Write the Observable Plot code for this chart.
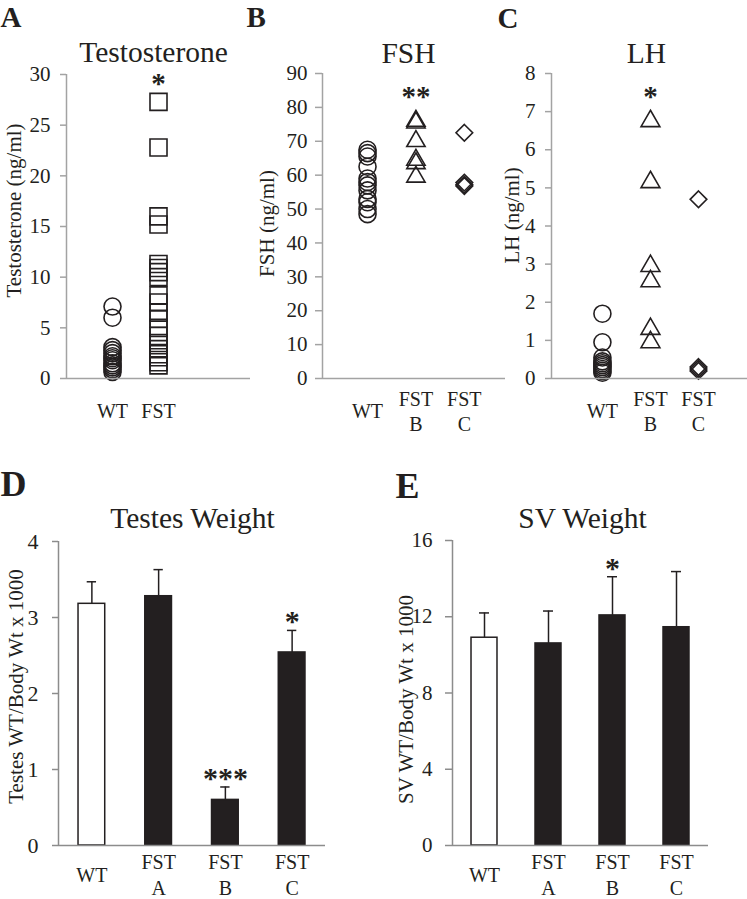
<!DOCTYPE html>
<html>
<head>
<meta charset="utf-8">
<script src="https://cdn.jsdelivr.net/npm/d3@7"></script>
<script src="https://cdn.jsdelivr.net/npm/@observablehq/plot@0.6"></script>
<style>
html, body { margin: 0; padding: 0; background: #fff; }
#fig { position: relative; width: 747px; height: 899px; overflow: hidden; background: #fff; }
#fig > div { position: absolute; }
</style>
</head>
<body>
<div id="fig"></div>
<script>
// ---------- data ----------
const testoGroups = ["WT", "FST"];
const testoWT = [7.1, 6.0, 3.1, 2.8, 2.5, 2.2, 2.0, 1.8, 1.5, 1.3, 1.1, 0.9, 0.65];
const testoFST = [27.3, 22.8, 16.0, 15.2, 11.3, 10.9, 10.5, 10.0, 8.2, 7.5, 6.5, 5.9, 5.0, 4.2, 3.5, 2.9, 2.4, 2.1, 1.6, 1.3];
const testoStars = ["", "*"];
const testoTicks = [0, 5, 10, 15, 20, 25, 30];

const hormoneGroups = ["WT", "FST\nB", "FST\nC"];
const fshWT = [67.5, 66.5, 65.5, 62.5, 59, 58, 57, 55.5, 53, 52, 50, 48.5];
const fshFSTB = [76, 75.5, 70, 64.5, 63.5, 59.5];
const fshFSTC = [72.5, 57.8, 57.2, 56.8];
const fshStars = ["", "**", ""];
const fshTicks = [0, 10, 20, 30, 40, 50, 60, 70, 80, 90];

const lhWT = [1.7, 0.95, 0.55, 0.45, 0.4, 0.35, 0.3, 0.25, 0.2, 0.15];
const lhFSTB = [6.75, 5.15, 2.95, 2.55, 1.3, 0.95];
const lhFSTC = [4.7, 0.3, 0.25, 0.2];
const lhStars = ["", "*", ""];
const lhTicks = [0, 1, 2, 3, 4, 5, 6, 7, 8];

const weightGroups = ["WT", "FST\nA", "FST\nB", "FST\nC"];
const testesMean = [3.18, 3.28, 0.60, 2.54];
const testesErr = [0.29, 0.35, 0.17, 0.29];
const testesStars = ["", "", "***", "*"];
const testesTicks = [0, 1, 2, 3, 4];

const svMean = [10.9, 10.6, 12.07, 11.45];
const svErr = [1.3, 1.7, 2.03, 2.92];
const svStars = ["", "", "*", ""];
const svTicks = [0, 4, 8, 12, 16];

// ---------- styling ----------
const FONT = '"Liberation Serif", "Times New Roman", serif';
const INK = "#231f20";

function note(p, text, xAbs, yAbs, opts) {
  return Plot.text([text], {
    frameAnchor: "top-left",
    text: d => d,
    dx: xAbs - (p.left + p.mLeft),
    dy: yAbs - (p.top + p.mTop),
    fill: INK,
    fontFamily: FONT,
    ...opts
  });
}

function panel(p, dataMarks) {
  const svg = Plot.plot({
    width: p.width,
    height: p.height,
    marginLeft: p.mLeft,
    marginRight: 0,
    marginTop: p.mTop,
    marginBottom: p.mBottom,
    x: {type: "linear", domain: p.xDomain, axis: null},
    y: {type: "linear", domain: p.yDomain, axis: null},
    style: {fontFamily: FONT, fontSize: "20px", color: INK, background: "transparent", overflow: "visible", maxWidth: "none"},
    marks: [
      ...dataMarks,
      Plot.ruleY([p.yDomain[0]], {stroke: p.axisColor, strokeWidth: 1.5}),
      Plot.ruleX([p.xDomain[0]], {stroke: p.axisColor, strokeWidth: 1.5}),
      Plot.axisY(p.yTicks, {
        tickSize: p.tickSize, tickPadding: p.tickPadding,
        stroke: p.axisColor, strokeWidth: 1.5, fill: INK,
        fontSize: p.tickFont, fontFamily: FONT, label: null,
        tickFormat: d => String(d)
      }),
      Plot.text(p.groups, {
        x: (d, i) => i + 1, text: d => d,
        frameAnchor: "bottom", lineAnchor: "middle", lineHeight: p.lineHeight,
        dy: p.xLabelDy, fontSize: 20, fill: INK, fontFamily: FONT
      }),
      note(p, p.title, p.titleX, p.titleY, {fontSize: 29.5, textAnchor: "middle", lineAnchor: "bottom"}),
      note(p, p.letter, p.letterX, p.letterY, {fontSize: p.letterSize, fontWeight: "bold", textAnchor: "start", lineAnchor: "bottom"}),
      note(p, p.ylabel, p.ylabelX, p.ylabelY, {fontSize: p.ylabelSize, rotate: -90, textAnchor: "middle", lineAnchor: "middle"})
    ]
  });
  const div = document.createElement("div");
  div.style.left = p.left + "px";
  div.style.top = p.top + "px";
  div.style.width = p.width + "px";
  div.style.height = p.height + "px";
  div.appendChild(svg);
  document.getElementById("fig").appendChild(div);
}

function scatterMarks(groups, series, symbols, radii, stars, starDy) {
  const rows = groups.flatMap((g, gi) => series[gi].map(v => ({gi, value: v})));
  const starRows = groups.map((g, gi) => ({gi, label: stars[gi], top: d3.max(series[gi])})).filter(d => d.label);
  return [
    ...groups.map((g, gi) => Plot.dot(rows.filter(d => d.gi === gi), {
      x: d => d.gi + 1, y: "value", symbol: symbols[gi], r: radii[gi],
      fill: "none", stroke: INK, strokeWidth: 1.6
    })),
    Plot.text(starRows, {x: d => d.gi + 1, y: "top", text: "label", dy: starDy, lineAnchor: "bottom", fontSize: 29, fontWeight: "bold", fill: INK, fontFamily: FONT})
  ];
}

function barMarks(groups, mean, err, stars, halfWidth, capHalf) {
  const rows = groups.map((g, i) => ({i: i + 1, mean: mean[i], top: mean[i] + err[i], star: stars[i], wt: i === 0}));
  return [
    Plot.ruleX(rows, {x: "i", y1: "mean", y2: "top", stroke: INK, strokeWidth: 1.5}),
    Plot.ruleY(rows, {y: "top", x1: d => d.i - capHalf, x2: d => d.i + capHalf, stroke: INK, strokeWidth: 1.5}),
    Plot.rect(rows, {x1: d => d.i - halfWidth, x2: d => d.i + halfWidth, y1: 0, y2: "mean",
      fill: d => d.wt ? "#ffffff" : INK, stroke: INK, strokeWidth: 1.5}),
    Plot.text(rows.filter(d => d.star), {x: "i", y: "top", text: "star", dy: 1, lineAnchor: "bottom", fontSize: 30, fontWeight: "bold", fill: INK, fontFamily: FONT})
  ];
}

// ---------- panel A ----------
const pA = {left: 0, top: 0, width: 250, height: 440, mLeft: 66, mTop: 74, mBottom: 62,
  xDomain: [0, 4], yDomain: [0, 30], yTicks: testoTicks, tickSize: 6, tickPadding: 10, tickFont: 21,
  axisColor: "#a3a3a3", groups: testoGroups, xLabelDy: 31, lineHeight: 1.25,
  title: "Testosterone", titleX: 153, titleY: 61,
  letter: "A", letterX: 0, letterY: 26, letterSize: 29,
  ylabel: "Testosterone (ng/ml)", ylabelX: 14, ylabelY: 210, ylabelSize: 21};
panel(pA, scatterMarks(testoGroups, [testoWT, testoFST], ["circle", "square"], [8.5, 9.6], testoStars, -9));

// ---------- panel B ----------
const pB = {left: 240, top: 0, width: 265, height: 440, mLeft: 82, mTop: 73, mBottom: 62,
  xDomain: [0.07, 3.85], yDomain: [0, 90], yTicks: fshTicks, tickSize: 7, tickPadding: 8, tickFont: 21,
  axisColor: "#a3a3a3", groups: hormoneGroups, xLabelDy: 31.7, lineHeight: 1.25,
  title: "FSH", titleX: 408, titleY: 62,
  letter: "B", letterX: 246, letterY: 26, letterSize: 29,
  ylabel: "FSH (ng/ml)", ylabelX: 267, ylabelY: 223, ylabelSize: 21};
panel(pB, scatterMarks(hormoneGroups, [fshWT, fshFSTB, fshFSTC], ["circle", "triangle", "diamond2"], [8.5, 6.8, 7.5], fshStars, -15));

// ---------- panel C ----------
const pC = {left: 490, top: 0, width: 257, height: 440, mLeft: 61, mTop: 73, mBottom: 62,
  xDomain: [-0.06, 4.02], yDomain: [0, 8], yTicks: lhTicks, tickSize: 6, tickPadding: 10, tickFont: 21,
  axisColor: "#a3a3a3", groups: hormoneGroups, xLabelDy: 31.7, lineHeight: 1.25,
  title: "LH", titleX: 646, titleY: 62,
  letter: "C", letterX: 497, letterY: 27, letterSize: 29,
  ylabel: "LH (ng/ml)", ylabelX: 512, ylabelY: 215, ylabelSize: 21};
panel(pC, scatterMarks(hormoneGroups, [lhWT, lhFSTB, lhFSTC], ["circle", "triangle", "diamond2"], [8.5, 7, 7.5], lhStars, -15));

// ---------- panel D ----------
const pD = {left: 0, top: 440, width: 325, height: 459, mLeft: 58, mTop: 101, mBottom: 54,
  xDomain: [0.5, 4.5], yDomain: [0, 4], yTicks: testesTicks, tickSize: 6, tickPadding: 14, tickFont: 22,
  axisColor: "#8c8c8c", groups: weightGroups, xLabelDy: 27.7, lineHeight: 1.3,
  title: "Testes Weight", titleX: 192, titleY: 527,
  letter: "D", letterX: 0, letterY: 495, letterSize: 36,
  ylabel: "Testes WT/Body Wt x 1000", ylabelX: 16, ylabelY: 686, ylabelSize: 21};
panel(pD, barMarks(weightGroups, testesMean, testesErr, testesStars, 0.2, 0.07));

// ---------- panel E ----------
const pE = {left: 360, top: 440, width: 348, height: 459, mLeft: 92, mTop: 100, mBottom: 54,
  xDomain: [0.5, 4.5], yDomain: [0, 16], yTicks: svTicks, tickSize: 7, tickPadding: 13, tickFont: 21,
  axisColor: "#8c8c8c", groups: weightGroups, xLabelDy: 27.7, lineHeight: 1.3,
  title: "SV Weight", titleX: 582, titleY: 527,
  letter: "E", letterX: 395, letterY: 497, letterSize: 36,
  ylabel: "SV WT/Body Wt x 1000", ylabelX: 406, ylabelY: 699, ylabelSize: 21};
panel(pE, barMarks(weightGroups, svMean, svErr, svStars, 0.203, 0.078));
</script>
</body>
</html>
